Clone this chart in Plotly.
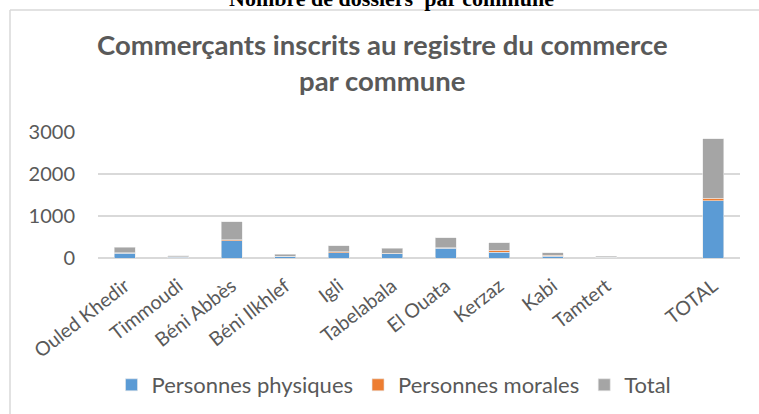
import plotly.graph_objects as go

categories = ["Ouled Khedir", "Timmoudi", "Béni Abbès", "Béni Ilkhlef", "Igli",
              "Tabelabala", "El Ouata", "Kerzaz", "Kabi", "Tamtert", " ", "TOTAL"]
physiques = [115, 20, 405, 36, 128, 100, 232, 140, 45, 15, None, 1360]
morales = [13, 8, 27, 8, 20, 16, 12, 40, 15, 5, None, 60]
total = [128, 28, 432, 44, 148, 116, 244, 180, 60, 20, None, 1420]
y_ticks = [0, 1000, 2000, 3000]

W, H = 759, 414
L, R, T, B = 98, 19, 132, 156
pw, ph = W - L - R, H - T - B

def px(x):
    return (x - L) / pw

def py(y):
    return (H - B - y) / ph

txt = "#595959"
font = "Lato"

fig = go.Figure()
for name, vals, col in [("Personnes physiques", physiques, "#5b9bd5"),
                        ("Personnes morales", morales, "#ed7d31"),
                        ("Total", total, "#a5a5a5")]:
    fig.add_bar(x=categories, y=vals, name=name, marker_color=col,
                marker_line=dict(color="#e8e8e8", width=0.6))

fig.update_layout(
    width=W, height=H,
    margin=dict(l=L, r=R, t=T, b=B, autoexpand=False),
    barmode="stack", bargap=0.6,
    plot_bgcolor="white", paper_bgcolor="white",
    font=dict(family=font, size=20, color=txt),
    showlegend=True,
    legend=dict(orientation="h", x=px(394), xanchor="center", y=py(385), yanchor="middle",
                font=dict(size=22, color=txt), traceorder="normal",
                itemwidth=30, tracegroupgap=0),
    xaxis=dict(type="category", categoryorder="array", categoryarray=categories,
               tickangle=-38, showgrid=False, showline=False, ticks="",
               tickfont=dict(size=19.5, color=txt), ticklabelstandoff=12),
    yaxis=dict(range=[0, 3000], tickvals=y_ticks, showgrid=True, gridcolor="#d9d9d9",
               gridwidth=1.5, zeroline=True, zerolinecolor="#d9d9d9", zerolinewidth=1.5,
               showline=False, ticks="", ticklen=0, tickfont=dict(size=20, color=txt),
               ticklabelstandoff=22),
    shapes=[
        dict(type="line", xref="paper", yref="paper", x0=px(10), x1=px(760), y0=py(10), y1=py(10),
             line=dict(color="#d9d9d9", width=1.5)),
        dict(type="line", xref="paper", yref="paper", x0=px(10), x1=px(10), y0=py(10), y1=py(420),
             line=dict(color="#d9d9d9", width=1.5)),
    ],
    annotations=[
        dict(text="<b>Nombre de dossiers  par commune</b>", xref="paper", yref="paper",
             x=px(391), y=py(13), xanchor="center", yanchor="bottom", showarrow=False,
             font=dict(family="Liberation Serif", size=22, color="black")),
        dict(text="<b>Commerçants inscrits au registre du commerce</b><br><b>par commune</b>",
             xref="paper", yref="paper", x=px(382), y=py(62), xanchor="center", yanchor="middle",
             showarrow=False, font=dict(family=font, size=27.5, color=txt)),
    ],
)

fig.write_html("out.html", config={"displayModeBar": False},
               post_script="document.body.style.margin='0';")
